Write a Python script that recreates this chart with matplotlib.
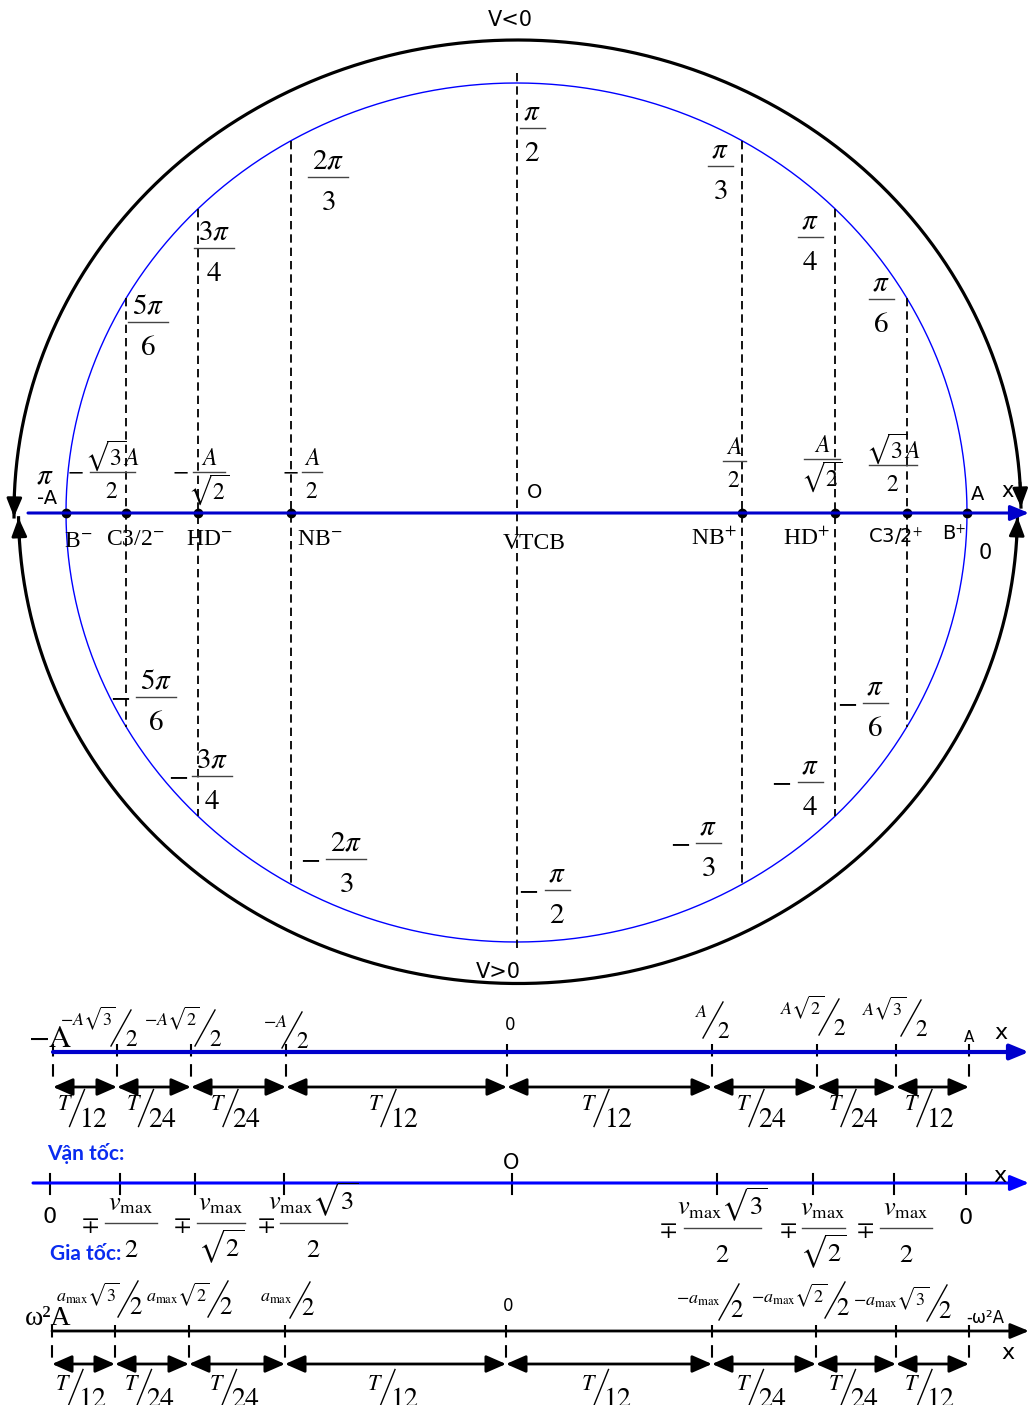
import numpy as np
import matplotlib

matplotlib.use("Agg")
import matplotlib.pyplot as plt

plt.rcParams["mathtext.fontset"] = "stix"
plt.rcParams["font.family"] = ["Liberation Serif", "DejaVu Serif"]
plt.rcParams["lines.scale_dashes"] = False

SANS = "DejaVu Sans"
AXIS_BLUE = "#0000cc"
RING_BLUE = "#0000ff"
TEXT_BLUE = "#0a2cf0"

# ---- data ----
angles_deg = [0, 30, 45, 60, 90, 120, 135, 150, 180]
angle_num = [None, r"\pi", r"\pi", r"\pi", r"\pi", r"2\pi", r"3\pi", r"5\pi", None]
angle_den = [None, "6", "4", "3", "2", "3", "4", "6", None]
point_names = ["B$^{+}$", "C3/2$^{+}$", "HD$^{+}$", "NB$^{+}$", "VTCB",
               "NB$^{-}$", "HD$^{-}$", "C3/2$^{-}$", "B$^{-}$"]
amp_num = [None, r"\sqrt{3}A", "A", "A", None, "A", "A", r"\sqrt{3}A", None]
amp_den = [None, "2", r"\sqrt{2}", "2", None, "2", r"\sqrt{2}", "2", None]
amp_neg = [False, False, False, False, False, True, True, True, False]

pos_num = [r"-A\sqrt{3}", r"-A\sqrt{2}", r"-A", r"A", r"A\sqrt{2}", r"A\sqrt{3}"]
vel_num = [r"v_{\mathrm{max}}", r"v_{\mathrm{max}}", r"v_{\mathrm{max}}\sqrt{3}",
           r"v_{\mathrm{max}}\sqrt{3}", r"v_{\mathrm{max}}", r"v_{\mathrm{max}}"]
vel_den = ["2", r"\sqrt{2}", "2", "2", r"\sqrt{2}", "2"]
acc_num = [r"a_{\mathrm{max}}\sqrt{3}", r"a_{\mathrm{max}}\sqrt{2}", r"a_{\mathrm{max}}",
           r"-a_{\mathrm{max}}", r"-a_{\mathrm{max}}\sqrt{2}", r"-a_{\mathrm{max}}\sqrt{3}"]
interval_den = ["12", "24", "24", "12", "12", "24", "24", "12"]

# ---- layout (pixels) ----
cx, cy, ra, rb = 516.5, 512.5, 450.5, 429.5
upper_lbl = [None, (881, 299), (810, 237), (720, 166), (532, 128),
             (328, 177), (214, 248), (148, 322), None]
lower_lbl = [None, (875, 703, 847), (810, 782, 781), (708, 843, 680), (557, 890, 528),
             (346, 859, 310), (212, 776, 178), (156, 697, 120), None]
amp_lbl = [None, (893, 465, 48), (822, 459, 36), (734, 461, 23), None,
           (312, 472, 20), (209, 472, 32), (112, 472, 45), None]
amp_minus_x = [None, None, None, None, None, 290, 180, 75, None]
name_pos = [(954, 540, SANS, 14), (896, 543, SANS, 14), (807, 545, None, 17),
            (714, 545, None, 17), (534, 549, None, 17), (320, 545, None, 17),
            (209, 545, None, 17), (135, 545, None, 17), (78, 547, None, 17)]

row1_x = [53, 117, 191, 286, 507, 712, 817, 896, 969]
row2_x = [50, 120, 195, 284, 512, 717, 813, 894, 966]
row3_x = [52, 115, 189, 285, 506, 712, 816, 896, 969]
pos_slash = [(121, 1028), (205, 1028), (292, 1030), (713, 1020), (829, 1017), (911, 1018)]
acc_slash = [(128, 1299), (218, 1299), (300, 1300), (729, 1302), (835, 1300), (937, 1303)]
vel_frac = [(131, 1223, 52, 90), (221, 1223, 48, 182), (313, 1223, 67, 266),
            (722, 1228, 77, 668), (823, 1228, 43, 788), (906, 1228, 52, 865)]

fig = plt.figure(figsize=(10.29, 14.05), dpi=100)
ax = fig.add_axes([0, 0, 1, 1])
ax.set_xlim(0, 1029)
ax.set_ylim(1405, 0)
ax.axis("off")


def arrow(x0, y0, x1, y1, color="k", lw=2.0, style="-|>", hl=0.8, hw=0.35, ms=15):
    ax.annotate("", xy=(x1, y1), xytext=(x0, y0),
                arrowprops=dict(arrowstyle=f"{style},head_length={hl},head_width={hw}",
                                color=color, lw=lw, shrinkA=0, shrinkB=0,
                                mutation_scale=ms))


def frac(x, y, num, den, size, width, ndy=None, ddy=None, nsize=None):
    ndy = -0.42 * size if ndy is None else ndy
    ddy = 1.55 * size if ddy is None else ddy
    ax.text(x, y + ndy, f"${num}$", ha="center", va="baseline", fontsize=nsize or size)
    ax.text(x, y + ddy, f"${den}$", ha="center", va="baseline", fontsize=size)
    ax.plot([x - width / 2, x + width / 2], [y, y], color="#444444", lw=1.0)


def slash(x, y, num, den, nsize, dsize, h, w, ndx, ndy, ddx, ddy):
    ax.plot([x - w / 2, x + w / 2], [y + h / 2, y - h / 2], color="k", lw=1.0)
    ax.text(x + ndx, y + ndy, f"${num}$", ha="right", va="baseline", fontsize=nsize)
    ax.text(x + ddx, y + ddy, f"${den}$", ha="left", va="baseline", fontsize=dsize)


# ---- circle part ----
t = np.radians(np.linspace(0, 360, 721))
ax.plot(cx + ra * np.cos(t), cy - rb * np.sin(t), color=RING_BLUE, lw=1.0)

# outer black arcs with arrow heads
up = dict(x=517.5, y=512.0, a=503.5, b=472.0)
lo = dict(x=518.0, y=512.0, a=499.5, b=471.5)


def arc_pt(e, deg):
    r = np.radians(deg)
    return e["x"] + e["a"] * np.cos(r), e["y"] - e["b"] * np.sin(r)


for e, d0, d1 in [(up, 0.6, 180.6), (lo, -0.6, -179.3)]:
    tt = np.linspace(d0, d1, 400)
    xs, ys = arc_pt(e, tt)
    ax.plot(xs, ys, color="k", lw=2.3)
    step = 3 if d1 > d0 else -3
    arrow(*arc_pt(e, d0 + step), *arc_pt(e, d0), lw=2.0, hw=0.33, ms=14)
    arrow(*arc_pt(e, d1 - step), *arc_pt(e, d1), lw=2.0, hw=0.33, ms=14)

# main x axis
arrow(28, 513, 1029, 513, color=AXIS_BLUE, lw=2.2, hw=0.33, ms=14)

for i, deg in enumerate(angles_deg):
    r = np.radians(deg)
    px = cx + ra * np.cos(r)
    if 0 < deg < 180:
        ext = 10 if deg == 90 else 0
        y1 = cy - rb * np.sin(r) - ext
        y2 = cy + rb * np.sin(r) + ext
        ax.plot([px, px], [y1, y2], color="k", lw=1.3, dashes=(6, 3.6))
    if deg != 90:
        ax.plot(px, 513, "o", color="k", ms=6)
    if angle_num[i] is not None:
        ux, uy = upper_lbl[i]
        w = 40 if len(angle_num[i]) > 3 else 25
        frac(ux, uy, angle_num[i], angle_den[i], 21, w)
        lx, ly, mx = lower_lbl[i]
        frac(lx, ly, angle_num[i], angle_den[i], 21, w)
        ax.text(mx, ly, "$-$", ha="center", va="center", fontsize=21)
    if amp_num[i] is not None:
        fx, fy, fw = amp_lbl[i]
        frac(fx, fy, amp_num[i], amp_den[i], 17, fw)
        if amp_neg[i]:
            ax.text(amp_minus_x[i], fy, "$-$", ha="center", va="center", fontsize=17)
    nx, ny, fam, fs = name_pos[i]
    kw = dict(family=fam) if fam else {}
    ax.text(nx, ny, point_names[i], ha="center", va="baseline", fontsize=fs, **kw)

ax.text(510, 20, "V<0", family=SANS, fontsize=15, ha="center", va="center")
ax.text(498, 972, "V>0", family=SANS, fontsize=15, ha="center", va="center")
ax.text(535, 492, "O", family=SANS, fontsize=14, ha="center", va="center")
ax.text(978, 495, "A", family=SANS, fontsize=14, ha="center", va="center")
ax.text(1008, 491, "x", family=SANS, fontsize=15, ha="center", va="center")
ax.text(985, 553, "0", family=SANS, fontsize=15, ha="center", va="center")
ax.text(45, 477, r"$\pi$", fontsize=21, ha="center", va="center")
ax.text(47, 499, "-A", family=SANS, fontsize=14, ha="center", va="center")

# ---- row 1: position ----
arrow(53, 1052, 1029, 1052, color=AXIS_BLUE, lw=3.0, hw=0.33, ms=14)
for i, x in enumerate(row1_x):
    ax.plot([x, x], [1044, 1082], color="k", lw=1.5, dashes=(9, 5.5))
    if i < len(row1_x) - 1:
        arrow(x, 1087, row1_x[i + 1], 1087, style="<|-|>", lw=2.0)
        sx = (x + row1_x[i + 1]) / 2 - 8
        slash(sx, 1108, "T", interval_den[i], 16, 20, 37, 15, -4, 2, 2, 19)
for (sx, sy), num in zip(pos_slash, pos_num):
    slash(sx, sy, num, "2", 13, 17, 36, 20, -5, -3, 4, 18)
ax.text(50, 1047, r"$-\mathrm{A}$", fontsize=22, ha="center", va="baseline")
ax.text(510, 1025, "0", family=SANS, fontsize=12, ha="center", va="center")
ax.text(969, 1038, "A", family=SANS, fontsize=11, ha="center", va="center")
ax.text(1001, 1033, "x", family=SANS, fontsize=16, ha="center", va="center")

# ---- row 2: velocity ----
arrow(33, 1183, 1029, 1183, color=RING_BLUE, lw=2.2, hw=0.33, ms=14)
for x in row2_x:
    ax.plot([x, x], [1174, 1194], color="k", lw=1.5)
for (fx, fy, fw, mx), num, den in zip(vel_frac, vel_num, vel_den):
    frac(fx, fy, num, den, 19, fw, ndy=-13, ddy=34, nsize=19)
    ax.text(mx, fy + 2, r"$\mp$", fontsize=18, ha="center", va="center")
ax.text(511, 1163, "O", family=SANS, fontsize=15, ha="center", va="center")
ax.text(1000, 1176, "x", family=SANS, fontsize=16, ha="center", va="center")
ax.text(50, 1217, "0", family=SANS, fontsize=16, ha="center", va="center")
ax.text(966, 1218, "0", family=SANS, fontsize=16, ha="center", va="center")
ax.text(47, 1153, "Vận tốc:", family="Lato", weight="bold", color=TEXT_BLUE,
        fontsize=15, ha="left", va="center")
ax.text(50, 1254, "Gia tốc:", family="Lato", weight="bold", color=TEXT_BLUE,
        fontsize=15, ha="left", va="center")

# ---- row 3: acceleration ----
arrow(52, 1331, 1029, 1331, color="k", lw=2.0, hw=0.33, ms=14)
for i, x in enumerate(row3_x):
    ax.plot([x, x], [1325, 1360], color="k", lw=1.5, dashes=(9, 5.5))
    if i < len(row3_x) - 1:
        arrow(x, 1364, row3_x[i + 1], 1364, style="<|-|>", lw=2.0)
        sx = (x + row3_x[i + 1]) / 2 - 8
        slash(sx, 1388, "T", interval_den[i], 16, 20, 37, 15, -4, 2, 2, 19)
for (sx, sy), num in zip(acc_slash, acc_num):
    slash(sx, sy, num, "2", 13, 18, 36, 20, -8, 2, 1, 15)
ax.text(48, 1325, "ω²A", fontsize=20, ha="center", va="baseline")
ax.text(508, 1306, "0", family=SANS, fontsize=12, ha="center", va="center")
ax.text(985, 1318, "-ω²A", family=SANS, fontsize=12, ha="center", va="center")
ax.text(1008, 1353, "x", family=SANS, fontsize=16, ha="center", va="center")

fig.savefig("out.png", dpi=100)
